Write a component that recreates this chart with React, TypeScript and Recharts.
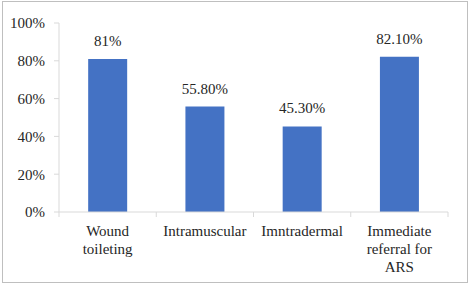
import React from "react";
import { BarChart, Bar, XAxis, YAxis, LabelList } from "recharts";

const categories = [
  "Wound\ntoileting",
  "Intramuscular",
  "Imntradermal",
  "Immediate\nreferral for\nARS",
];
const values = [81, 55.8, 45.3, 82.1];
const valueLabels = ["81%", "55.80%", "45.30%", "82.10%"];
const yTicks = [0, 20, 40, 60, 80, 100];

const W = 471;
const H = 286;
const MARGIN = { top: 23, right: 23, bottom: 14, left: 0 };
const Y_AXIS_W = 59;
const X_AXIS_H = 60;
const FONT = "'Liberation Serif', Tinos, 'DejaVu Serif', 'Noto Serif', serif";
const TEXT = "#262626";
const AXIS = "#d9d9d9";
const BLUE = "#4472C4";

// width of one category slot, used to put the x tick marks on slot edges
const BAND = (W - MARGIN.left - MARGIN.right - Y_AXIS_W) / categories.length;

const data = categories.map((name, i) => ({
  name,
  value: values[i],
  label: valueLabels[i],
}));

function CategoryTick(props: any) {
  const { x, y, payload, index } = props;
  const lines = String(payload.value).split("\n");
  const half = BAND / 2;
  return (
    <g>
      <line x1={x - half} x2={x - half} y1={y} y2={y + 5} stroke={AXIS} />
      {index === categories.length - 1 && (
        <line x1={x + half} x2={x + half} y1={y} y2={y + 5} stroke={AXIS} />
      )}
      <text
        x={x}
        y={y + 24}
        textAnchor="middle"
        fill={TEXT}
        fontSize={15}
        style={{ fontFamily: FONT }}
      >
        {lines.map((l, i) => (
          <tspan key={i} x={x} dy={i === 0 ? 0 : 18}>
            {l}
          </tspan>
        ))}
      </text>
    </g>
  );
}

export default function App() {
  return (
    <div
      style={{
        position: "absolute",
        left: 0,
        top: 0,
        width: W,
        height: H,
        background: "#fff",
        fontFamily: FONT,
      }}
    >
      <div
        style={{
          position: "absolute",
          left: 2,
          top: 1,
          width: 466,
          height: 282,
          border: "1px solid #bfbfbf",
          boxSizing: "border-box",
        }}
      />
      <BarChart
        width={W}
        height={H}
        data={data}
        margin={MARGIN}
        barCategoryGap="30%"
        style={{ position: "absolute", left: 0, top: 0, fontFamily: FONT }}
      >
        <XAxis
          dataKey="name"
          height={X_AXIS_H}
          interval={0}
          tickLine={false}
          tickSize={0}
          tickMargin={0}
          axisLine={{ stroke: AXIS }}
          tick={<CategoryTick />}
        />
        <YAxis
          width={Y_AXIS_W}
          domain={[0, 100]}
          ticks={yTicks}
          tickFormatter={(v) => `${v}%`}
          tickSize={5}
          tickMargin={9}
          axisLine={{ stroke: AXIS }}
          tickLine={{ stroke: AXIS }}
          tick={{ fill: TEXT, fontSize: 15, style: { fontFamily: FONT } }}
        />
        <Bar dataKey="value" fill={BLUE} isAnimationActive={false}>
          <LabelList
            dataKey="label"
            position="top"
            offset={13}
            fill={TEXT}
            fontSize={15}
            style={{ fontFamily: FONT }}
          />
        </Bar>
      </BarChart>
    </div>
  );
}
